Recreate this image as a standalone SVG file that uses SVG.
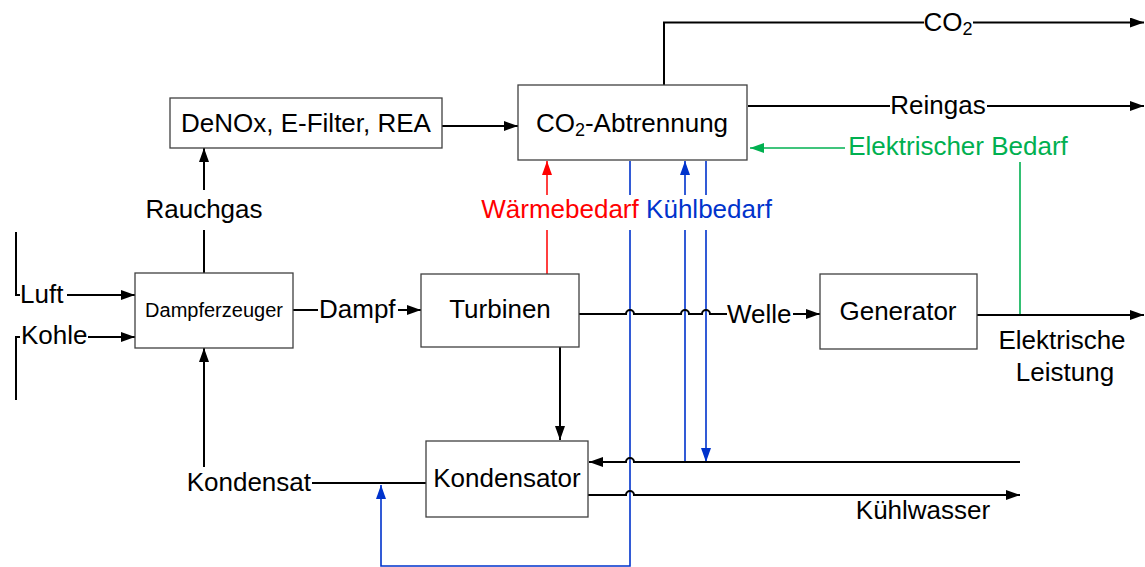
<svg xmlns="http://www.w3.org/2000/svg" width="1145" height="567" viewBox="0 0 1145 567">
<style>
text{font-family:"Liberation Sans",Arial,sans-serif;font-size:26px;fill:#000}
.box{fill:#fff;stroke:#404040;stroke-width:1.3}
.k{fill:none;stroke:#000;stroke-width:2}
.r{fill:none;stroke:#ff0000;stroke-width:1.5}
.b{fill:none;stroke:#0033cc;stroke-width:1.6}
.g{fill:none;stroke:#00b050;stroke-width:1.6}
.red{fill:#ff0000}.blue{fill:#0033cc}.green{fill:#00b050}
</style>
<defs>
<marker id="ak" markerUnits="userSpaceOnUse" markerWidth="15" markerHeight="10" refX="14" refY="5" orient="auto"><path d="M0,0L14,5L0,10z" fill="#000"/></marker>
<marker id="ar" markerUnits="userSpaceOnUse" markerWidth="15" markerHeight="10" refX="14" refY="5" orient="auto"><path d="M0,0L14,5L0,10z" fill="#ff0000"/></marker>
<marker id="ab" markerUnits="userSpaceOnUse" markerWidth="15" markerHeight="10" refX="14" refY="5" orient="auto"><path d="M0,0L14,5L0,10z" fill="#0033cc"/></marker>
<marker id="ag" markerUnits="userSpaceOnUse" markerWidth="15" markerHeight="10" refX="14" refY="5" orient="auto"><path d="M0,0L14,5L0,10z" fill="#00b050"/></marker>
</defs>
<g id="connectors">
<!-- blue cooling lines -->
<path class="b" d="M630,161V195M630,230V566H381V485" marker-end="url(#ab)"/>
<path class="b" d="M685,462V230M685,195V161" marker-end="url(#ab)"/>
<path class="b" d="M706,161V195M706,230V462" marker-end="url(#ab)"/>
<!-- red -->
<path class="r" d="M547,274V230M547,195V161" marker-end="url(#ar)"/>
<!-- green -->
<path class="g" d="M845,148H750" marker-end="url(#ag)"/>
<path class="g" d="M1020,162V315"/>
<!-- black -->
<path class="k" d="M664,85V22.5H924M973,22.5H1144" marker-end="url(#ak)"/>
<path class="k" d="M748,106H890M987,106H1144" marker-end="url(#ak)"/>
<path class="k" d="M442,126H518" marker-end="url(#ak)"/>
<path class="k" d="M204,273V230M204,190V148" marker-end="url(#ak)"/>
<path class="k" d="M16,232V295H20M67,295H135" marker-end="url(#ak)"/>
<path class="k" d="M16,400V337H20M88,337H135" marker-end="url(#ak)"/>
<path class="k" d="M293,310H318M398,310H421" marker-end="url(#ak)"/>
<path class="k" d="M579,314H626a4,4 0 0 1 8,0H681a4,4 0 0 1 8,0H702a4,4 0 0 1 8,0H727M793,314H820" marker-end="url(#ak)"/>
<path class="k" d="M977,315H1144" marker-end="url(#ak)"/>
<path class="k" d="M560,347V440" marker-end="url(#ak)"/>
<path class="k" d="M1020,462H634a4,4 0 0 0 -8,0H589" marker-end="url(#ak)"/>
<path class="k" d="M588,495H626a4,4 0 0 1 8,0H1020" marker-end="url(#ak)"/>
<path class="k" d="M426,483H312"/>
<path class="k" d="M204,467V348" marker-end="url(#ak)"/>
</g>
<g id="labels">
<text x="948" y="31" text-anchor="middle">CO<tspan font-size="18" dy="4">2</tspan></text>
<text x="938" y="114" text-anchor="middle">Reingas</text>
<text x="958" y="155" text-anchor="middle" class="green">Elektrischer Bedarf</text>
<text x="204" y="218" text-anchor="middle">Rauchgas</text>
<text x="560" y="218" text-anchor="middle" class="red">Wärmebedarf</text>
<text x="709" y="218" text-anchor="middle" class="blue">Kühlbedarf</text>
<text x="20" y="303">Luft</text>
<text x="21" y="344">Kohle</text>
<text x="319" y="318">Dampf</text>
<text x="727" y="323">Welle</text>
<text x="1062" y="349" text-anchor="middle">Elektrische</text>
<text x="1065" y="381" text-anchor="middle">Leistung</text>
<text x="311" y="491" text-anchor="end">Kondensat</text>
<text x="923" y="519" text-anchor="middle">Kühlwasser</text>
</g>
<g id="denox"><rect class="box" x="170" y="98" width="272" height="50"/><text x="306" y="132" text-anchor="middle">DeNOx, E-Filter, REA</text></g>
<g id="co2"><rect class="box" x="518" y="85" width="229" height="75"/><text x="632" y="132" text-anchor="middle">CO<tspan font-size="18" dy="4">2</tspan><tspan dy="-4">-Abtrennung</tspan></text></g>
<g id="dampferzeuger"><rect class="box" x="135" y="273" width="158" height="75"/><text x="214" y="317" text-anchor="middle" font-size="20" style="font-size:20px">Dampferzeuger</text></g>
<g id="turbinen"><rect class="box" x="421" y="274" width="158" height="73"/><text x="500" y="318" text-anchor="middle">Turbinen</text></g>
<g id="generator"><rect class="box" x="820" y="274" width="157" height="75"/><text x="898" y="320" text-anchor="middle">Generator</text></g>
<g id="kondensator"><rect class="box" x="426" y="441" width="162" height="76"/><text x="507" y="487" text-anchor="middle">Kondensator</text></g>
</svg>
